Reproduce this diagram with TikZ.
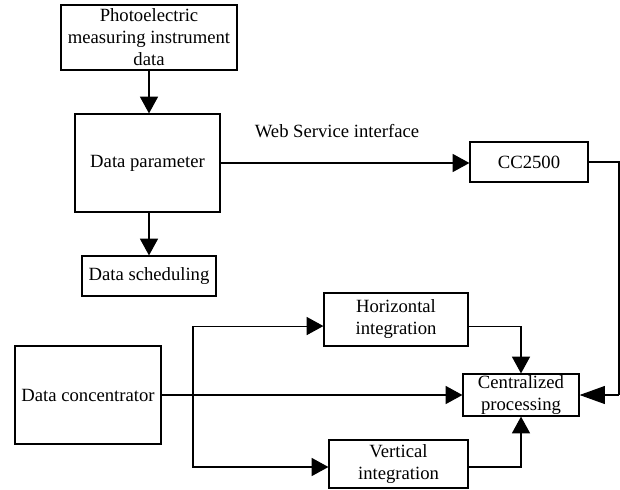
\documentclass[tikz,border=0pt]{standalone}
\usepackage{fontspec}
\setmainfont{Liberation Serif}
\usetikzlibrary{arrows.meta}

\tikzset{
  blk/.style={draw, line width=0.9pt, align=center, inner sep=1pt, font=\fontsize{14}{16.5}\selectfont},
  flow/.style={line width=0.8pt, -{Triangle[length=12.5pt,width=13.5pt]}},
  flowlong/.style={line width=0.8pt, -{Triangle[length=19pt,width=13.5pt]}},
  wire/.style={line width=0.8pt}
}

\begin{document}
\begin{tikzpicture}[x=0.75pt,y=0.75pt,yscale=-1,xscale=1]
\useasboundingbox (0,0) rectangle (620,489);

% Boxes
\node [blk, minimum width=132pt, minimum height=48.75pt] (photo) at (149,37.5) {Photoelectric\\measuring instrument\\data};
\node [blk, minimum width=108.75pt, minimum height=73.5pt] (param) at (147.5,163) {Data parameter};
\node [blk, minimum width=100.5pt, minimum height=30pt] (sched) at (149,276) {Data scheduling};
\node [blk, minimum width=88.5pt, minimum height=30pt] (cc) at (529,162) {CC2500};
\node [blk, minimum width=109.5pt, minimum height=73.5pt] (conc) at (88,395) {Data concentrator};
\node [blk, minimum width=108pt, minimum height=39.75pt] (horiz) at (396,319.5) {Horizontal\\integration};
\node [blk, minimum width=104.25pt, minimum height=36pt] (vert) at (398.5,464) {Vertical\\integration};
\node [blk, minimum width=87pt, minimum height=31.5pt] (centr) at (521,395) {Centralized\\processing};

% Text Node
\node [font=\fontsize{14}{16.5}\selectfont, inner sep=0pt] (web) at (337,131) {Web Service interface};

% Corners
\coordinate (br) at (193,395);
\coordinate (rt) at (619,395);

% Connectors
\draw [flow] (photo.south) -- (photo.south |- param.north);
\draw [flow] (sched.north |- param.south) -- (sched.north);
\draw [flow] (param.east) -- (param.east -| cc.west);
\draw [wire] (cc.east) -| (rt);
\draw [flowlong] (rt) -- (centr.east);
\draw [flow] (conc.east) -- (centr.west);
\draw [flow] (br) |- ([yshift=4.9pt]horiz.west);
\draw [flow] (br) |- ([yshift=2.25pt]vert.west);
\draw [flow] ([yshift=4.9pt]horiz.east) -| (centr.north);
\draw [flow] ([yshift=2.25pt]vert.east) -| (centr.south);

\end{tikzpicture}
\end{document}
